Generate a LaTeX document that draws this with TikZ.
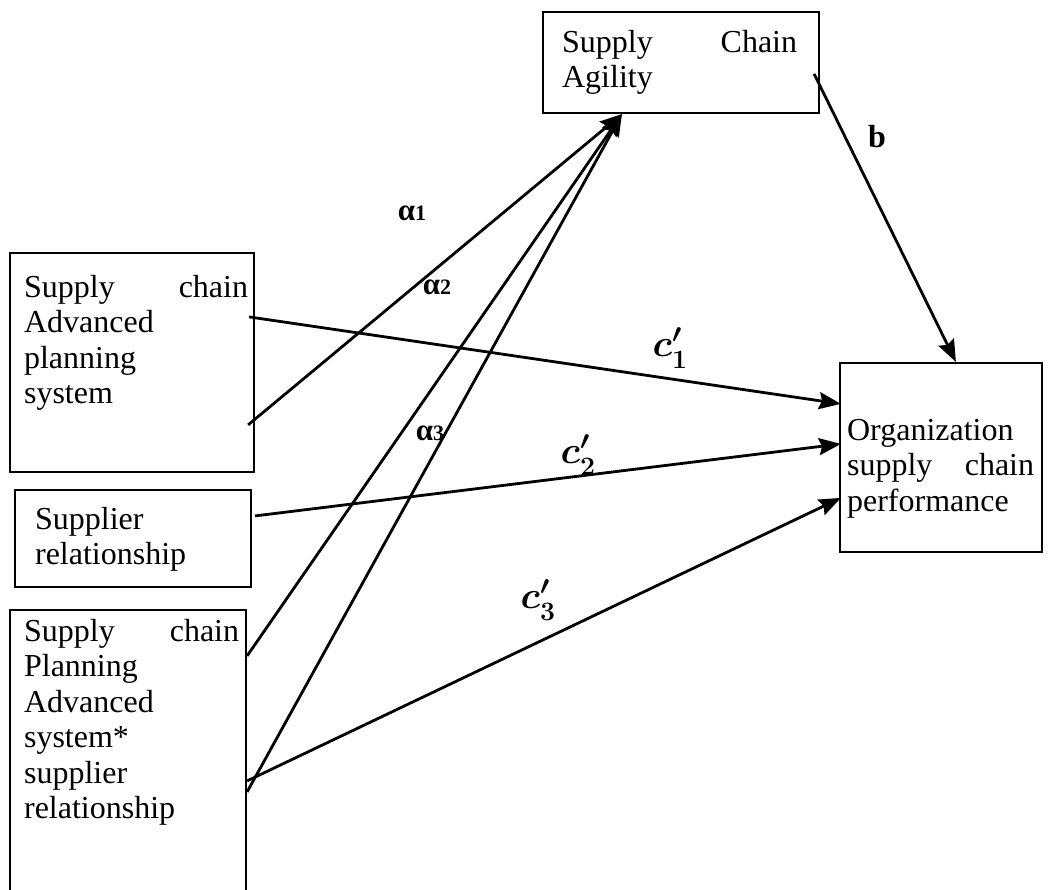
\RequirePackage{fix-cm}
\documentclass[tikz,border=0pt]{standalone}
\usepackage{fontspec}
\setmainfont{Liberation Serif}
\usetikzlibrary{arrows.meta,fit}

\tikzset{
  factor/.style={draw, line width=2.2pt, inner sep=0pt},
  ftext/.style={anchor=north west, inner sep=0pt, align=left,
    font=\fontsize{32}{35.5}\selectfont},
  link/.style={line width=2.8pt, -{Stealth[length=22pt,width=17pt,inset=3pt]}},
  coef/.style={inner sep=0pt, font=\bfseries\fontsize{31}{33}\selectfont},
  cpath/.style={inner sep=0pt, font=\fontsize{38}{40}\selectfont\boldmath}
}
\newcommand{\alab}[1]{α{\fontsize{22}{24}\selectfont #1}}
\newcommand{\clab}[1]{$c'_{\mathbf{#1}}$}

\begin{document}
\begin{tikzpicture}[x=1pt,y=-1pt]

  \useasboundingbox (0,0) rectangle (1057,889);
  \clip (0,0) rectangle (1057,889);

  % boxes
  \node[factor, fit={(543,12) (819,113)}] (agil) {};
  \node[factor, fit={(10,253) (254,472)}] (aps) {};
  \node[factor, fit={(15,490) (251,587)}] (supp) {};
  \node[factor, fit={(10,610) (246,900)}] (inter) {};
  \node[factor, fit={(840,363) (1042,552)}] (perf) {};

  % box texts
  \node[ftext, text width=235pt] (agiltxt) at ([shift={(20,19)}]agil.north west)
    {Supply\hfill Chain\\Agility};
  \node[ftext, text width=224pt] (apstxt) at ([shift={(15,23)}]aps.north west)
    {Supply\hfill chain\\Advanced\\planning\\system};
  \node[ftext, text width=200pt] (supptxt) at ([shift={(21,18)}]supp.north west)
    {Supplier\\relationship};
  \node[ftext, text width=215pt] (intertxt) at ([shift={(15,10)}]inter.north west)
    {Supply\hfill chain\\Planning\\Advanced\\system*\\supplier\\relationship};
  \node[ftext, text width=187pt] (perftxt) at ([shift={(8,57)}]perf.north west)
    {Organization\\supply\hfill chain\\performance};

  % paths to agility
  \draw[link] ([shift={(-7,173)}]aps.north east) -- ([shift={(80,0)}]agil.south west);
  \draw[link] ([shift={(0,47)}]inter.north east) -- ([shift={(80,0)}]agil.south west);
  \draw[link] ([shift={(0,183)}]inter.north east) -- ([shift={(80,0)}]agil.south west);

  % direct paths
  \draw[link] ([shift={(-6,65)}]aps.north east) -- ([shift={(2,42)}]perf.north west);
  \draw[link] ([shift={(3,27)}]supp.north east) -- ([shift={(2,82)}]perf.north west);
  \draw[link] ([shift={(0,172)}]inter.north east) -- ([shift={(2,136)}]perf.north west);

  % agility to performance
  \draw[link] ([shift={(-6,63)}]agil.north east) -- ([shift={(117,0)}]perf.north west);

  % coefficients
  \node[coef] (a1) at (412,213) {\alab{1}};
  \node[coef] (a2) at (437,287) {\alab{2}};
  \node[coef] (a3) at (430,433) {\alab{3}};
  \node[coef, font=\bfseries\fontsize{32}{34}\selectfont] (bb) at (877,137) {b};
  \node[cpath] (c1) at (670,348) {\clab{1}};
  \node[cpath] (c2) at (578,455) {\clab{2}};
  \node[cpath] (c3) at (538,600) {\clab{3}};

\end{tikzpicture}
\end{document}
